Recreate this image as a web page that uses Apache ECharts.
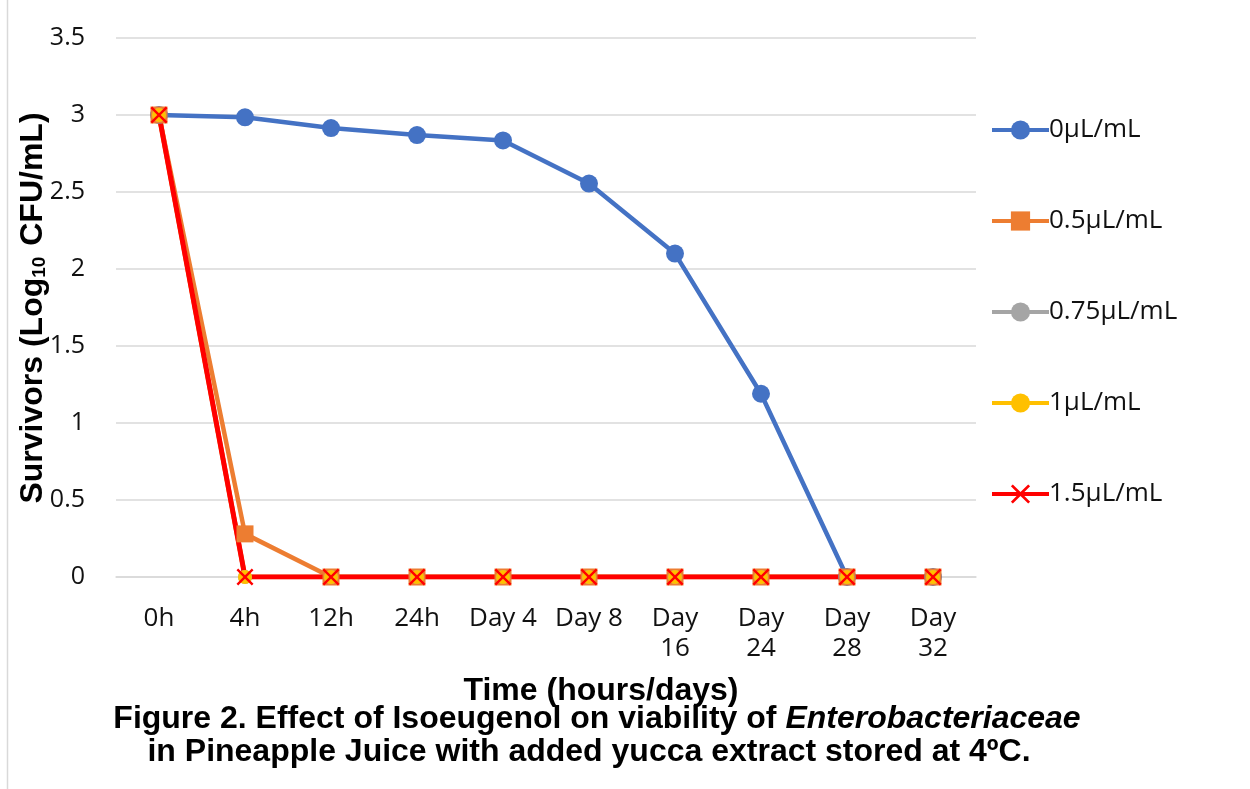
<!DOCTYPE html>
<html>
<head>
<meta charset="utf-8">
<script src="https://cdn.jsdelivr.net/npm/echarts@6/dist/echarts.min.js"></script>
<style>
  html, body { margin: 0; padding: 0; background: #fff; }
  #chart { width: 1250px; height: 789px; }
</style>
</head>
<body>
<div id="chart"></div>
<script>
// time points
var categories = ['0h', '4h', '12h', '24h', 'Day 4', 'Day 8', 'Day\n16', 'Day\n24', 'Day\n28', 'Day\n32'];
var seriesNames = ['0μL/mL', '0.5μL/mL', '0.75μL/mL', '1μL/mL', '1.5μL/mL'];
var dose0 = [3, 2.985, 2.915, 2.87, 2.835, 2.555, 2.1, 1.19, 0, 0];
var dose05 = [3, 0.28, 0, 0, 0, 0, 0, 0, 0, 0];
var dose075 = [3, 0, 0, 0, 0, 0, 0, 0, 0, 0];
var dose1 = [3, 0, 0, 0, 0, 0, 0, 0, 0, 0];
var dose15 = [3, 0, 0, 0, 0, 0, 0, 0, 0, 0];

var colors = ['#4472C4', '#ED7D31', '#A5A5A5', '#FFC000', '#FF0000'];
var crossPath = 'path://M1,0L5,4L9,0L10,1L6,5L10,9L9,10L5,6L1,10L0,9L4,5L0,1Z';

var myChart = echarts.init(document.getElementById('chart'));

function lineSeries(name, data, color, symbol, size, width) {
	return {
		name: name,
		type: 'line',
		data: data,
		symbol: symbol,
		symbolSize: size,
		showAllSymbol: true,
		lineStyle: { color: color, width: width },
		itemStyle: { color: color },
		emphasis: { disabled: true },
		animation: false
	};
}

var option = {
	backgroundColor: '#fff',
	textStyle: { fontFamily: 'Open Sans' },
	grid: { left: 116, right: 274, top: 38, bottom: 212, containLabel: false },
	legend: {
		orient: 'vertical',
		left: 990,
		top: 117,
		padding: 0,
		itemWidth: 57,
		itemHeight: 24,
		itemGap: 65,
		lineStyle: { width: 4 },
		textStyle: { fontSize: 26, lineHeight: 24, color: '#111', fontFamily: 'Open Sans', padding: [0, 0, 0, -5] },
		data: seriesNames
	},
	xAxis: {
		type: 'category',
		data: categories,
		boundaryGap: true,
		axisLine: { show: true, lineStyle: { color: '#d9d9d9', width: 1.5 } },
		axisTick: { show: false },
		axisLabel: { fontSize: 26, color: '#111', lineHeight: 30, margin: 27, interval: 0 }
	},
	yAxis: {
		type: 'value',
		min: 0,
		max: 3.5,
		interval: 0.5,
		axisLine: { show: false },
		axisTick: { show: false },
		axisLabel: { fontSize: 25, color: '#111', margin: 31 },
		splitLine: { lineStyle: { color: '#d9d9d9', width: 1.5 } }
	},
	graphic: [
		{
			type: 'line',
			shape: { x1: 7.5, y1: 0, x2: 7.5, y2: 789 },
			style: { stroke: '#d9d9d9', lineWidth: 1.5 }
		},
		{
			type: 'text',
			x: 33,
			y: 308,
			rotation: Math.PI / 2,
			style: {
				text: '{b|Survivors (Log}{s|10}{b| CFU/mL)}',
				align: 'center',
				verticalAlign: 'middle',
				rich: {
					b: { fontFamily: 'Liberation Sans', fontWeight: 'bold', fontSize: 32, fill: '#000' },
					s: { fontFamily: 'Liberation Sans', fontWeight: 'bold', fontSize: 19, fill: '#000', padding: [14, 2, 0, 0] }
				}
			}
		},
		{
			type: 'text',
			x: 601,
			y: 691,
			style: {
				text: 'Time (hours/days)',
				align: 'center',
				verticalAlign: 'middle',
				fontFamily: 'Liberation Sans',
				fontWeight: 'bold',
				fontSize: 32,
				fill: '#000'
			}
		},
		{
			type: 'text',
			x: 597,
			y: 719,
			style: {
				text: '{b|Figure 2. Effect of Isoeugenol on viability of }{i|Enterobacteriaceae}',
				align: 'center',
				verticalAlign: 'middle',
				rich: {
					b: { fontFamily: 'Liberation Sans', fontWeight: 'bold', fontSize: 32, fill: '#000' },
					i: { fontFamily: 'Liberation Sans', fontWeight: 'bold', fontStyle: 'italic', fontSize: 32, fill: '#000' }
				}
			}
		},
		{
			type: 'text',
			x: 589,
			y: 752,
			style: {
				text: 'in Pineapple Juice with added yucca extract stored at 4ºC.',
				align: 'center',
				verticalAlign: 'middle',
				fontFamily: 'Liberation Sans',
				fontWeight: 'bold',
				fontSize: 32,
				fill: '#000'
			}
		}
	],
	series: [
		lineSeries(seriesNames[0], dose0, colors[0], 'circle', 18, 4.5),
		lineSeries(seriesNames[1], dose05, colors[1], 'rect', 17, 4.5),
		lineSeries(seriesNames[2], dose075, colors[2], 'circle', 14, 4.5),
		lineSeries(seriesNames[3], dose1, colors[3], 'circle', 14, 4.5),
		lineSeries(seriesNames[4], dose15, colors[4], crossPath, 17, 5)
	]
};

myChart.setOption(option);
</script>
</body>
</html>
